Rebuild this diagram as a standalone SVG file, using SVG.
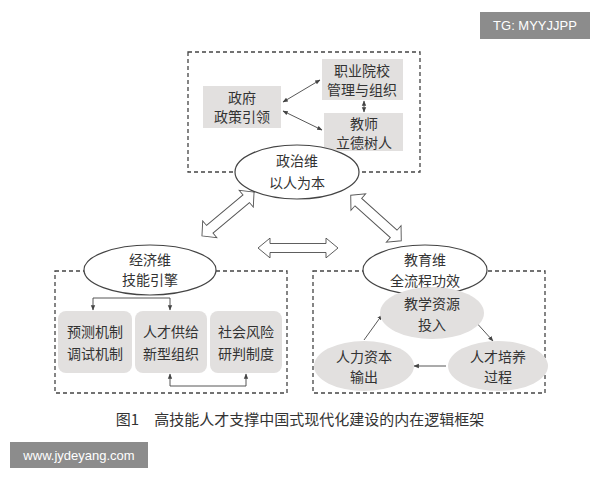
<svg xmlns="http://www.w3.org/2000/svg" width="600" height="480" viewBox="0 0 600 480">
<style>
text{font-family:"Noto Sans CJK SC","Liberation Sans",sans-serif;font-size:14px;fill:#333;text-anchor:middle}
.dash{fill:none;stroke:#444;stroke-width:1.3;stroke-dasharray:4 3}
.box{fill:#e2e0df}
.ell{fill:#fff;stroke:#444;stroke-width:1.2}
.gell{fill:#e2e0df}
.ln{fill:none;stroke:#444;stroke-width:0.9}
.hol{fill:#fff;stroke:#555;stroke-width:1}
</style>
<defs>
<marker id="a" viewBox="0 0 10 10" refX="9" refY="5" markerWidth="6" markerHeight="6" orient="auto-start-reverse"><path d="M0,1 L10,5 L0,9 z" fill="#444"/></marker>
<path id="dbl" d="M-40,0 L-28,-11 L-28,-5 L28,-5 L28,-11 L40,0 L28,11 L28,5 L-28,5 L-28,11 Z"/>
</defs>
<rect width="600" height="480" fill="#fff"/>
<g id="dashboxes">
<rect class="dash" x="188" y="52" width="232" height="120"/>
<rect class="dash" x="55" y="271" width="232" height="122"/>
<rect class="dash" x="313" y="271" width="232" height="122"/>
</g>
<g id="connectors">
<line class="ln" x1="283" y1="102" x2="320" y2="80" marker-start="url(#a)" marker-end="url(#a)"/>
<line class="ln" x1="283" y1="111" x2="322" y2="130" marker-start="url(#a)" marker-end="url(#a)"/>
<line class="ln" x1="364" y1="101" x2="364" y2="112" marker-start="url(#a)" marker-end="url(#a)"/>
<path class="ln" d="M93,310 V298 H170 V310" marker-start="url(#a)" marker-end="url(#a)"/>
<path class="ln" d="M170,374 V386 H246 V374" marker-start="url(#a)" marker-end="url(#a)"/>
<line class="ln" x1="474" y1="320" x2="493" y2="341" marker-end="url(#a)"/>
<line class="ln" x1="446" y1="366" x2="414" y2="366" marker-end="url(#a)"/>
<line class="ln" x1="364" y1="340" x2="382" y2="315" marker-end="url(#a)"/>
<use href="#dbl" class="hol" transform="translate(228,214) rotate(-40) scale(0.85,1)"/>
<use href="#dbl" class="hol" transform="translate(376,218) rotate(42) scale(0.85,1)"/>
<use href="#dbl" class="hol" transform="translate(298,248) scale(1,0.9)"/>
</g>
<g id="n-gov"><rect class="box" x="203" y="86" width="78" height="42"/><text x="242" y="103">政府</text><text x="242" y="122">政策引领</text></g>
<g id="n-school"><rect class="box" x="322" y="59" width="81" height="41"/><text x="362" y="76">职业院校</text><text x="362" y="95">管理与组织</text></g>
<g id="n-teacher"><rect class="box" x="324" y="113" width="79" height="38"/><text x="364" y="129">教师</text><text x="364" y="148">立德树人</text></g>
<g id="n-pol"><ellipse class="ell" cx="297" cy="172" rx="62" ry="27"/><text x="297" y="166">政治维</text><text x="297" y="188">以人为本</text></g>
<g id="n-eco"><ellipse class="ell" cx="150" cy="270" rx="66" ry="25"/><text x="150" y="265">经济维</text><text x="150" y="285">技能引擎</text></g>
<g id="n-pred"><rect class="box" x="58" y="311" width="74" height="62" rx="8"/><text x="95" y="337">预测机制</text><text x="95" y="359">调试机制</text></g>
<g id="n-talent"><rect class="box" x="135" y="311" width="72" height="62" rx="8"/><text x="171" y="337">人才供给</text><text x="171" y="359">新型组织</text></g>
<g id="n-risk"><rect class="box" x="210" y="311" width="72" height="62" rx="8"/><text x="246" y="337">社会风险</text><text x="246" y="359">研判制度</text></g>
<g id="n-edu"><ellipse class="ell" cx="425" cy="270" rx="62" ry="25"/><text x="425" y="265">教育维</text><text x="425" y="286">全流程功效</text></g>
<g id="n-res"><ellipse class="gell" cx="432" cy="313" rx="52" ry="26"/><text x="432" y="309">教学资源</text><text x="432" y="330">投入</text></g>
<g id="n-train"><ellipse class="gell" cx="498" cy="366" rx="50" ry="25"/><text x="498" y="362">人才培养</text><text x="498" y="382">过程</text></g>
<g id="n-out"><ellipse class="gell" cx="364" cy="366" rx="50" ry="25"/><text x="364" y="362">人力资本</text><text x="364" y="382">输出</text></g>
<text x="300" y="425" style="font-size:15px">图1　高技能人才支撑中国式现代化建设的内在逻辑框架</text>
<rect x="480" y="12" width="110" height="27" fill="#8c8c8c"/>
<text x="535" y="30" style="fill:#fff;font-family:'Liberation Sans',sans-serif;font-size:13px">TG: MYYJJPP</text>
<rect x="10" y="442" width="138" height="26" fill="#8c8c8c"/>
<text x="79" y="460" style="fill:#fff;font-family:'Liberation Sans',sans-serif;font-size:13px">www.jydeyang.com</text>
</svg>
